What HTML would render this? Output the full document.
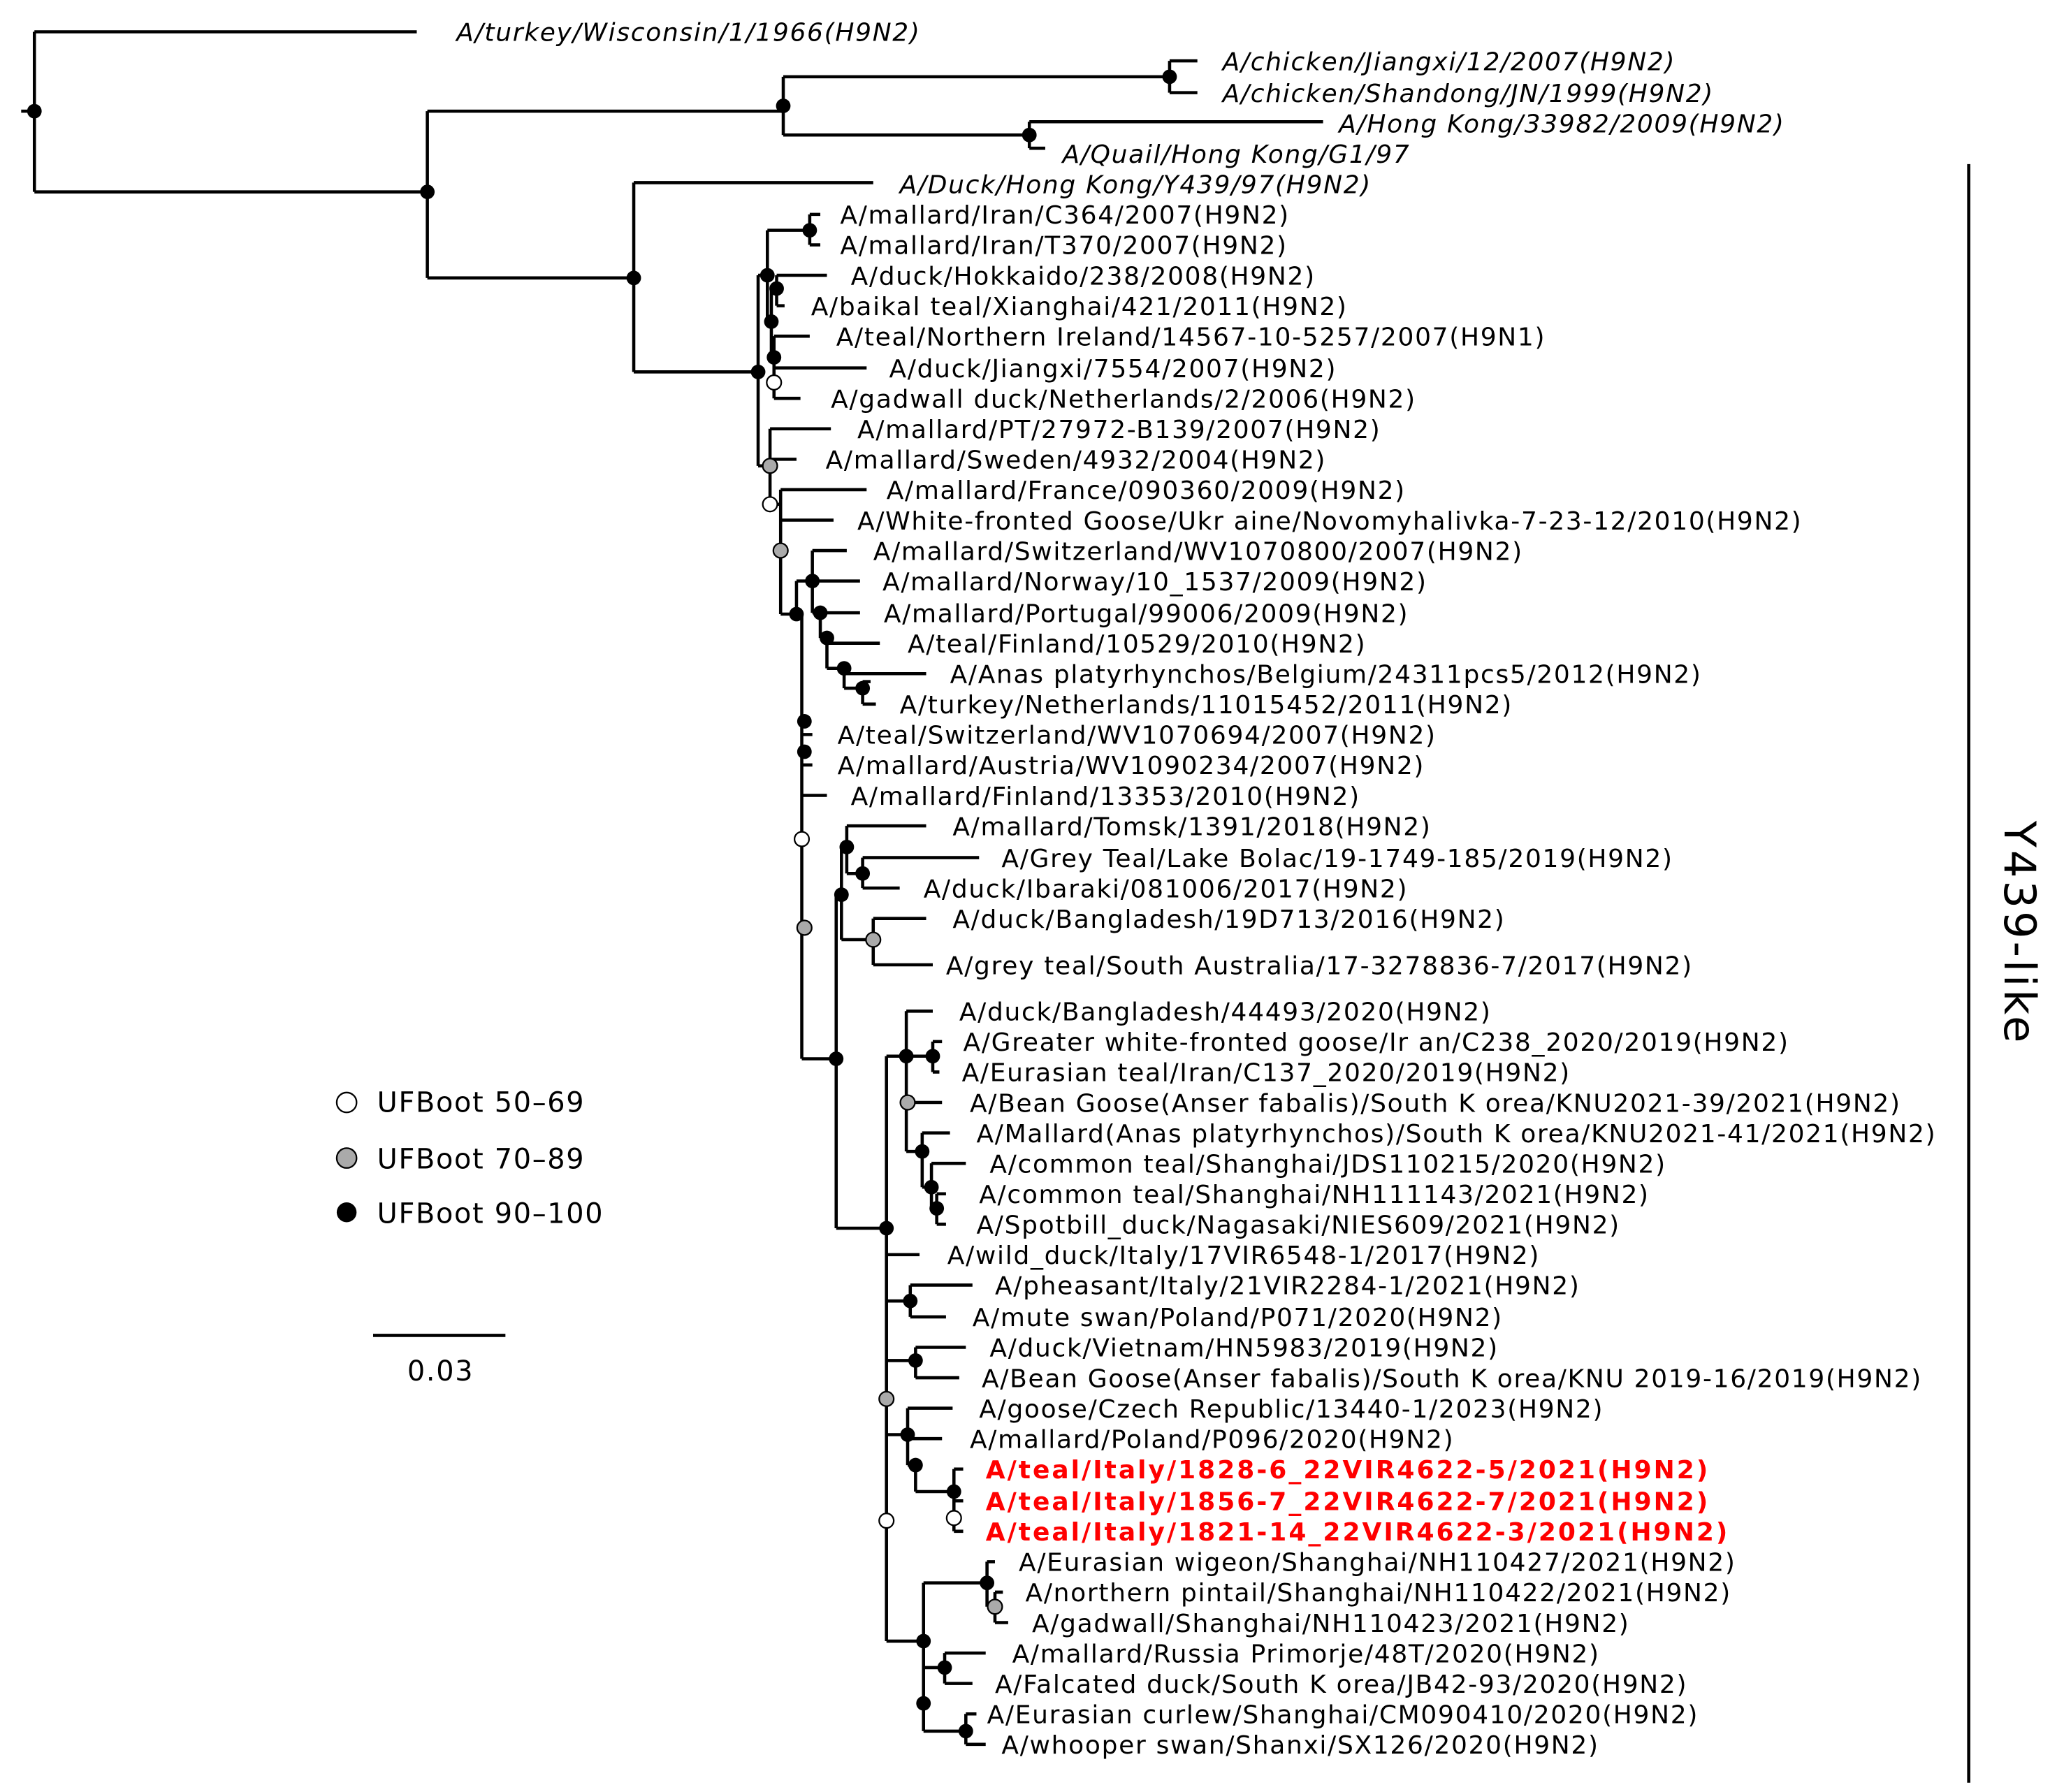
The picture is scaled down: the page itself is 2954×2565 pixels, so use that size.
<!DOCTYPE html>
<html><head><meta charset="utf-8"><style>
html,body{margin:0;padding:0;background:#fff}
svg{display:block}
text{font-family:"DejaVu Sans","Liberation Sans",sans-serif;font-size:19px;fill:#000;letter-spacing:0.9px}
.i{font-style:italic}
.r{fill:#ff0000;font-weight:bold;letter-spacing:1.6px}
</style></head><body>
<svg width="2954" height="2565" viewBox="0 0 1560 1354" preserveAspectRatio="none" xmlns="http://www.w3.org/2000/svg">
<rect width="1560" height="1354" fill="#fff"/>
<path fill="none" stroke="#000" stroke-width="2.4" d="
M16 84H26 M26 24V145 M26 24H315 M26 145H323 M323 84V210 M323 84H592 M592 58V102 M592 58H884 M884 46V70 M884 46H905 M884 70H905 M592 102H778 M778 92V112 M778 92H1000 M778 112H790 M323 210H479 M479 138V281 M479 138H660 M479 281H573
M573 208V352 M573 208H580 M573 352H582
M580 174V243 M580 174H612 M612 162V185 M612 162H620 M612 185H620
M580 243H583 M583 218V270 M583 218H587 M587 208V231 M587 208H625 M587 231H593 M583 270H585 M585 254V301 M585 254H612 M585 278H655 M585 301H605
M582 324V381 M582 324H628 M582 347H602 M582 381H590
M590 370V464 M590 370H655 M590 393H630 M590 464H602
M602 439V464 M602 439H614 M614 416V463 M614 416H640 M614 439H650 M614 463H620 M620 463V482 M620 463H650 M620 482H625 M625 482V505 M625 486H665 M625 505H638 M638 505V520 M638 509H700 M638 520H652 M652 515V532 M652 515H658 M652 532H662
M602 464H606 M606 464V800 M606 555H614 M606 578H614 M606 601H625 M606 800H632
M632 676V928 M632 676H636 M636 640V710 M636 640H640 M640 624V660 M640 624H700 M640 660H652 M652 648V671 M652 648H740 M652 671H680 M636 710H660 M660 694V729 M660 694H700 M660 729H705
M632 928H670 M670 798V1240 M670 798H685 M685 764V870 M685 764H705 M685 798H705 M705 787V810 M705 787H712 M705 810H710 M685 833H712 M685 870H697 M697 856V897 M697 856H718 M697 897H704 M704 879V913 M704 879H730 M704 913H708 M708 902V925 M708 902H715 M708 925H715
M670 948H695 M670 983H688 M688 971V995 M688 971H735 M688 995H715 M670 1028H692 M692 1018V1041 M692 1018H730 M692 1041H725 M670 1084H686 M686 1064V1107 M686 1064H720 M686 1087H712 M686 1107H692 M692 1107V1127 M692 1127H721 M721 1110V1157 M721 1110H728 M721 1134H728 M721 1157H728
M670 1240H698 M698 1196V1308 M698 1196H746 M746 1180V1214 M746 1180H752 M746 1214H752 M752 1203V1226 M752 1203H758 M752 1226H762 M698 1260H714 M714 1249V1272 M714 1249H745 M714 1272H735 M698 1308H730 M730 1295V1318 M730 1295H738 M730 1318H745
M282 1009H382 M1488 124V1347"/>
<g fill="#000">
<circle cx="26" cy="84" r="5.5"/><circle cx="323" cy="145" r="5.5"/><circle cx="592" cy="80" r="5.5"/><circle cx="884" cy="58" r="5.5"/><circle cx="778" cy="102" r="5.5"/><circle cx="479" cy="210" r="5.5"/><circle cx="573" cy="281" r="5.5"/><circle cx="612" cy="174" r="5.5"/><circle cx="580" cy="208" r="5.5"/><circle cx="587" cy="218" r="5.5"/><circle cx="583" cy="243" r="5.5"/><circle cx="585" cy="270" r="5.5"/><circle cx="602" cy="464" r="5.5"/><circle cx="614" cy="439" r="5.5"/><circle cx="620" cy="463" r="5.5"/><circle cx="625" cy="482" r="5.5"/><circle cx="638" cy="505" r="5.5"/><circle cx="652" cy="520" r="5.5"/><circle cx="608" cy="545" r="5.5"/><circle cx="608" cy="568" r="5.5"/><circle cx="640" cy="640" r="5.5"/><circle cx="652" cy="660" r="5.5"/><circle cx="636" cy="676" r="5.5"/><circle cx="632" cy="800" r="5.5"/><circle cx="685" cy="798" r="5.5"/><circle cx="705" cy="798" r="5.5"/><circle cx="697" cy="870" r="5.5"/><circle cx="704" cy="897" r="5.5"/><circle cx="708" cy="913" r="5.5"/><circle cx="670" cy="928" r="5.5"/><circle cx="688" cy="983" r="5.5"/><circle cx="692" cy="1028" r="5.5"/><circle cx="686" cy="1084" r="5.5"/><circle cx="692" cy="1107" r="5.5"/><circle cx="721" cy="1127" r="5.5"/><circle cx="746" cy="1196" r="5.5"/><circle cx="698" cy="1240" r="5.5"/><circle cx="714" cy="1260" r="5.5"/><circle cx="698" cy="1287" r="5.5"/><circle cx="730" cy="1308" r="5.5"/>
<circle cx="262" cy="916" r="7.5"/>
</g>
<g fill="#fff" stroke="#000" stroke-width="1.2">
<circle cx="585" cy="289" r="5.5"/><circle cx="582" cy="381" r="5.5"/><circle cx="606" cy="634" r="5.5"/><circle cx="670" cy="1149" r="5.5"/><circle cx="721" cy="1147" r="5.5"/>
<circle cx="262" cy="833" r="7.5"/>
</g>
<g fill="#aaa" stroke="#000" stroke-width="1.2">
<circle cx="582" cy="352" r="5.5"/><circle cx="590" cy="416" r="5.5"/><circle cx="608" cy="701" r="5.5"/><circle cx="660" cy="710" r="5.5"/><circle cx="686" cy="833" r="5.5"/><circle cx="670" cy="1057" r="5.5"/><circle cx="752" cy="1214" r="5.5"/>
<circle cx="262" cy="875" r="7.5"/>
</g>
<text class="i" x="345" y="31">A/turkey/Wisconsin/1/1966(H9N2)</text>
<text class="i" x="924" y="53">A/chicken/Jiangxi/12/2007(H9N2)</text>
<text class="i" x="924" y="77">A/chicken/Shandong/JN/1999(H9N2)</text>
<text class="i" x="1012" y="100">A/Hong Kong/33982/2009(H9N2)</text>
<text class="i" x="803" y="123">A/Quail/Hong Kong/G1/97</text>
<text class="i" x="680" y="146">A/Duck/Hong Kong/Y439/97(H9N2)</text>
<text x="635" y="169">A/mallard/Iran/C364/2007(H9N2)</text>
<text x="635" y="192">A/mallard/Iran/T370/2007(H9N2)</text>
<text x="643" y="215">A/duck/Hokkaido/238/2008(H9N2)</text>
<text x="613" y="238">A/baikal teal/Xianghai/421/2011(H9N2)</text>
<text x="632" y="261">A/teal/Northern Ireland/14567-10-5257/2007(H9N1)</text>
<text x="672" y="285">A/duck/Jiangxi/7554/2007(H9N2)</text>
<text x="628" y="308">A/gadwall duck/Netherlands/2/2006(H9N2)</text>
<text x="648" y="331">A/mallard/PT/27972-B139/2007(H9N2)</text>
<text x="624" y="354">A/mallard/Sweden/4932/2004(H9N2)</text>
<text x="670" y="377">A/mallard/France/090360/2009(H9N2)</text>
<text x="648" y="400">A/White-fronted Goose/Ukr aine/Novomyhalivka-7-23-12/2010(H9N2)</text>
<text x="660" y="423">A/mallard/Switzerland/WV1070800/2007(H9N2)</text>
<text x="667" y="446">A/mallard/Norway/10_1537/2009(H9N2)</text>
<text x="668" y="470">A/mallard/Portugal/99006/2009(H9N2)</text>
<text x="686" y="493">A/teal/Finland/10529/2010(H9N2)</text>
<text x="718" y="516">A/Anas platyrhynchos/Belgium/24311pcs5/2012(H9N2)</text>
<text x="680" y="539">A/turkey/Netherlands/11015452/2011(H9N2)</text>
<text x="633" y="562">A/teal/Switzerland/WV1070694/2007(H9N2)</text>
<text x="633" y="585">A/mallard/Austria/WV1090234/2007(H9N2)</text>
<text x="643" y="608">A/mallard/Finland/13353/2010(H9N2)</text>
<text x="720" y="631">A/mallard/Tomsk/1391/2018(H9N2)</text>
<text x="757" y="655">A/Grey Teal/Lake Bolac/19-1749-185/2019(H9N2)</text>
<text x="698" y="678">A/duck/Ibaraki/081006/2017(H9N2)</text>
<text x="720" y="701">A/duck/Bangladesh/19D713/2016(H9N2)</text>
<text x="715" y="736">A/grey teal/South Australia/17-3278836-7/2017(H9N2)</text>
<text x="725" y="771">A/duck/Bangladesh/44493/2020(H9N2)</text>
<text x="728" y="794">A/Greater white-fronted goose/Ir an/C238_2020/2019(H9N2)</text>
<text x="727" y="817">A/Eurasian teal/Iran/C137_2020/2019(H9N2)</text>
<text x="733" y="840">A/Bean Goose(Anser fabalis)/South K orea/KNU2021-39/2021(H9N2)</text>
<text x="738" y="863">A/Mallard(Anas platyrhynchos)/South K orea/KNU2021-41/2021(H9N2)</text>
<text x="748" y="886">A/common teal/Shanghai/JDS110215/2020(H9N2)</text>
<text x="740" y="909">A/common teal/Shanghai/NH111143/2021(H9N2)</text>
<text x="738" y="932">A/Spotbill_duck/Nagasaki/NIES609/2021(H9N2)</text>
<text x="716" y="955">A/wild_duck/Italy/17VIR6548-1/2017(H9N2)</text>
<text x="752" y="978">A/pheasant/Italy/21VIR2284-1/2021(H9N2)</text>
<text x="735" y="1002">A/mute swan/Poland/P071/2020(H9N2)</text>
<text x="748" y="1025">A/duck/Vietnam/HN5983/2019(H9N2)</text>
<text x="742" y="1048">A/Bean Goose(Anser fabalis)/South K orea/KNU 2019-16/2019(H9N2)</text>
<text x="740" y="1071">A/goose/Czech Republic/13440-1/2023(H9N2)</text>
<text x="733" y="1094">A/mallard/Poland/P096/2020(H9N2)</text>
<text class="r" x="745" y="1117">A/teal/Italy/1828-6_22VIR4622-5/2021(H9N2)</text>
<text class="r" x="745" y="1141">A/teal/Italy/1856-7_22VIR4622-7/2021(H9N2)</text>
<text class="r" x="745" y="1164">A/teal/Italy/1821-14_22VIR4622-3/2021(H9N2)</text>
<text x="770" y="1187">A/Eurasian wigeon/Shanghai/NH110427/2021(H9N2)</text>
<text x="775" y="1210">A/northern pintail/Shanghai/NH110422/2021(H9N2)</text>
<text x="780" y="1233">A/gadwall/Shanghai/NH110423/2021(H9N2)</text>
<text x="765" y="1256">A/mallard/Russia Primorje/48T/2020(H9N2)</text>
<text x="752" y="1279">A/Falcated duck/South K orea/JB42-93/2020(H9N2)</text>
<text x="746" y="1302">A/Eurasian curlew/Shanghai/CM090410/2020(H9N2)</text>
<text x="757" y="1325">A/whooper swan/Shanxi/SX126/2020(H9N2)</text>
<text x="285" y="840" style="font-size:21px">UFBoot 50–69</text>
<text x="285" y="883" style="font-size:21px">UFBoot 70–89</text>
<text x="285" y="924" style="font-size:21px">UFBoot 90–100</text>
<text x="333" y="1043" text-anchor="middle" style="font-size:21px">0.03</text>
<text transform="translate(1515,705) rotate(90)" text-anchor="middle" style="font-size:33px;letter-spacing:2px">Y439-like</text>
</svg>
</body></html>
